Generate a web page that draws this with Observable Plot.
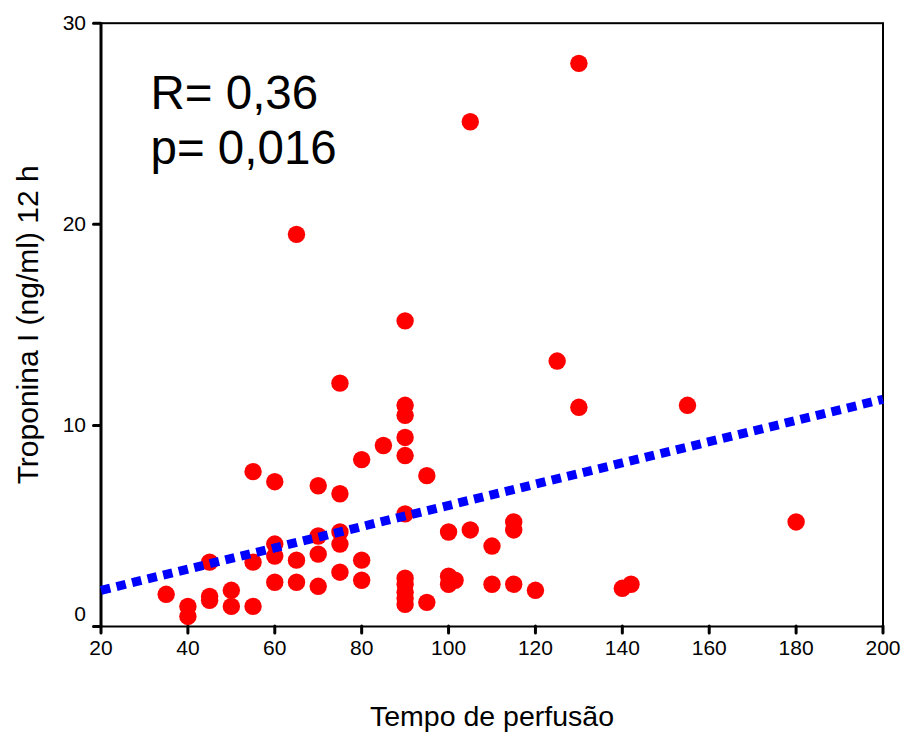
<!DOCTYPE html>
<html><head><meta charset="utf-8">
<script src="https://cdn.jsdelivr.net/npm/d3@7"></script>
<script src="https://cdn.jsdelivr.net/npm/@observablehq/plot@0.6"></script>
<style>body{margin:0;background:#fff}</style>
</head><body><div id="chart"></div>
<script>
// Data
const tempo = [35, 40, 40, 45, 45, 45, 50, 50, 55, 55, 55, 60, 60, 60, 60, 65, 65, 65,
  70, 70, 70, 70, 75, 75, 75, 75, 75, 80, 80, 80, 85, 90, 90, 90, 90, 90, 90, 90, 90, 90, 90, 90,
  95, 95, 100, 100, 101.5, 100, 105, 105, 110, 110, 115, 115, 115, 120, 125, 130, 130, 140, 142, 155, 180];
const troponina = [1.6, 1.0, 0.5, 3.2, 1.5, 1.3, 1.8, 1.0, 7.7, 3.2, 1.0, 7.2, 4.1, 3.5, 2.2, 19.5, 3.3, 2.2,
  7.0, 4.5, 3.6, 2.0, 12.1, 6.6, 4.7, 4.1, 2.7, 8.3, 3.3, 2.3, 9.0, 15.2, 11.0, 10.5, 9.4, 8.5, 5.6, 2.4, 2.1, 1.7, 1.4, 1.1,
  7.5, 1.2, 4.7, 2.5, 2.3, 2.1, 25.1, 4.8, 4.0, 2.1, 5.2, 4.8, 2.1, 1.8, 13.2, 28.0, 10.9, 1.9, 2.1, 11.0, 5.2];
const fitX = [20, 200];
const fitY = [1.8, 11.3];
const xTicks = [20, 40, 60, 80, 100, 120, 140, 160, 180, 200];
const yTicks = [0, 10, 20, 30];
const xTitle = "Tempo de perfusão";
const yTitle = "Troponina I (ng/ml) 12 h";
const statsLines = ["R= 0,36", "p= 0,016"];

const points = tempo.map((t, i) => ({x: t, y: troponina[i]}));
const fit = fitX.map((t, i) => ({x: t, y: fitY[i]}));

const mainFont = "'Liberation Sans', Arial, Helvetica, sans-serif";
const tickFont = "'Liberation Sans Narrow', 'Arial Narrow', 'Liberation Sans', sans-serif";

const chart = Plot.plot({
  width: 904,
  height: 733,
  marginLeft: 100.5,
  marginRight: 21.5,
  marginTop: 22.7,
  marginBottom: 107,
  style: {fontFamily: mainFont, background: "#fff", color: "#000"},
  x: {domain: [20, 200]},
  y: {domain: [0, 30]},
  marks: [
    Plot.frame({stroke: "#000", strokeWidth: 2}),
    Plot.ruleX([20], {stroke: "#000", strokeWidth: 3}),
    Plot.axisX(xTicks, {tickSize: 7, tickPadding: 7, strokeWidth: 3, strokeLinecap: "round",
      fontSize: 21, fontFamily: tickFont, label: null, tickFormat: d => String(d)}),
    Plot.axisY(yTicks, {tickSize: 7, text: null, strokeWidth: 3, strokeLinecap: "round", label: null}),
    Plot.axisY(yTicks.filter(d => d !== 0), {tickSize: 0, tickPadding: 15, fontSize: 21, fontFamily: tickFont, label: null, tickFormat: d => String(d)}),
    Plot.axisY(yTicks.filter(d => d === 0), {tickSize: 0, tickPadding: 15, dy: -12, fontSize: 21, fontFamily: tickFont, label: null, tickFormat: d => String(d)}),
    Plot.dot(points, {x: "x", y: "y", r: 8.7, fill: "#ff0000", stroke: "none"}),
    Plot.line(fit, {x: "x", y: "y", stroke: "#0000ff", strokeWidth: 9, strokeDasharray: "9.5,6.5", strokeLinecap: "butt"}),
    Plot.text([statsLines.join("\n")], {frameAnchor: "top-left", dx: 49.5, dy: 47.5, lineAnchor: "top",
      lineHeight: 1.15, textAnchor: "start", fontSize: 47.5, fill: "#000"}),
    Plot.text([xTitle], {frameAnchor: "bottom", dy: 99, lineAnchor: "bottom", fontSize: 28.5, fill: "#000"}),
    Plot.text([yTitle], {frameAnchor: "left", dx: -72.5, rotate: -90, textAnchor: "middle", lineAnchor: "middle", fontSize: 30, fill: "#000"})
  ]
});
document.getElementById("chart").appendChild(chart);
</script>
</body></html>
